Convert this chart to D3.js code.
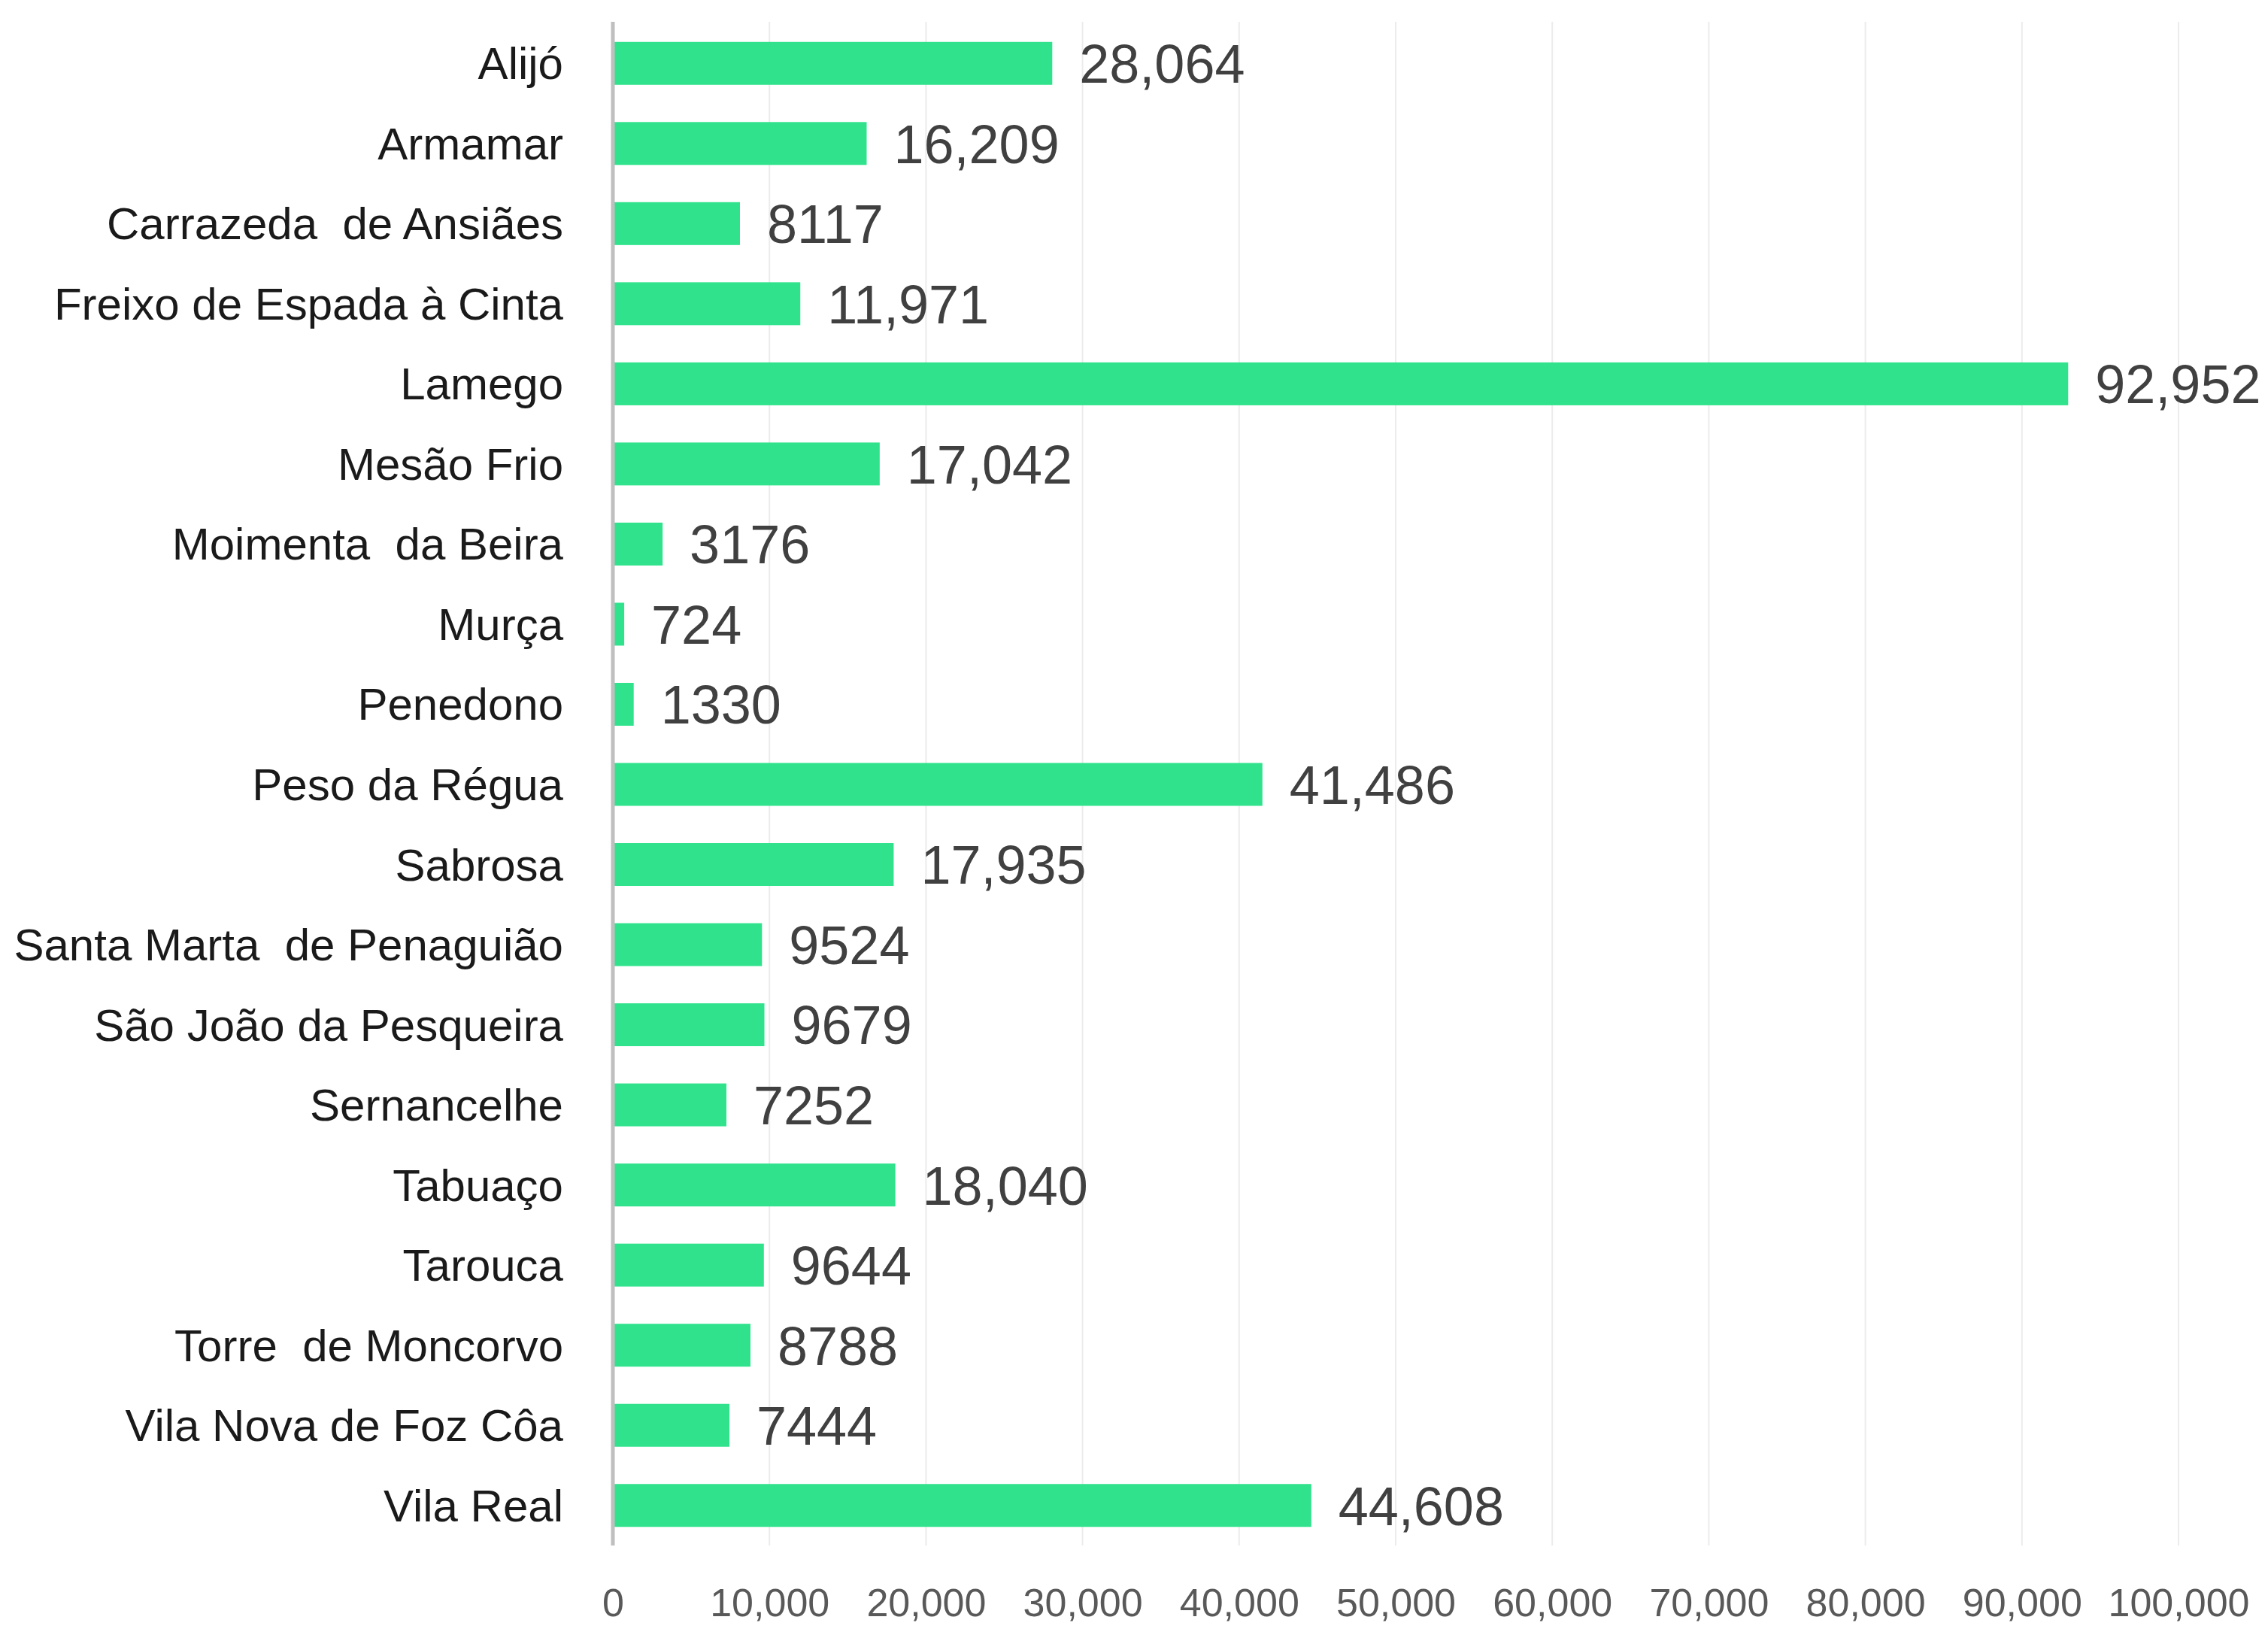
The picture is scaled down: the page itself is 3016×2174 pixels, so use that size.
<!DOCTYPE html>
<html>
<head>
<meta charset="utf-8">
<script src="https://cdn.jsdelivr.net/npm/d3@7"></script>
<style>
  html, body { margin: 0; padding: 0; background: #ffffff; }
  svg { display: block; }
  text { white-space: pre; }
</style>
</head>
<body>
<script>
const categories = [
  "Alijó", "Armamar", "Carrazeda  de Ansiães", "Freixo de Espada à Cinta", "Lamego",
  "Mesão Frio", "Moimenta  da Beira", "Murça", "Penedono", "Peso da Régua",
  "Sabrosa", "Santa Marta  de Penaguião", "São João da Pesqueira", "Sernancelhe",
  "Tabuaço", "Tarouca", "Torre  de Moncorvo", "Vila Nova de Foz Côa", "Vila Real"
];
const values = [
  28064, 16209, 8117, 11971, 92952,
  17042, 3176, 724, 1330, 41486,
  17935, 9524, 9679, 7252,
  18040, 9644, 8788, 7444, 44608
];
const tickValues = [0, 10000, 20000, 30000, 40000, 50000, 60000, 70000, 80000, 90000, 100000];

const W = 3016, H = 2174;
const svg = d3.select("body").append("svg").attr("width", W).attr("height", H);
svg.append("rect").attr("width", W).attr("height", H).attr("fill", "#ffffff");

const x = d3.scaleLinear().domain([0, 100000]).range([815, 2897]);
const y = d3.scaleBand().domain(categories).range([31, 2055]).paddingInner(0.465).paddingOuter(0.2325);

const plotTop = 29, plotBottom = 2055;

// gridlines
svg.append("g").selectAll("line").data(tickValues.slice(1)).join("line")
  .attr("x1", d => x(d)).attr("x2", d => x(d))
  .attr("y1", plotTop).attr("y2", plotBottom)
  .attr("stroke", "#ececec").attr("stroke-width", 2);

// bars
svg.append("g").selectAll("rect").data(values).join("rect")
  .attr("x", x(0))
  .attr("y", (d, i) => y(categories[i]))
  .attr("width", d => x(d) - x(0))
  .attr("height", y.bandwidth())
  .attr("fill", "#2fe28b");

// axis line at zero
svg.append("line")
  .attr("x1", x(0)).attr("x2", x(0))
  .attr("y1", plotTop).attr("y2", plotBottom)
  .attr("stroke", "#bfbfbf").attr("stroke-width", 5);

// category labels
svg.append("g").selectAll("text").data(categories).join("text")
  .attr("x", 749)
  .attr("y", d => y(d) + y.bandwidth() / 2)
  .attr("dy", "0.35em")
  .attr("text-anchor", "end")
  .attr("xml:space", "preserve")
  .attr("font-family", "'Liberation Sans', Arial, sans-serif")
  .attr("font-size", 60)
  .attr("fill", "#1a1a1a")
  .text(d => d);

// value labels
const fmt = d3.format(",");
svg.append("g").selectAll("text").data(values).join("text")
  .attr("x", d => x(d) + 36)
  .attr("y", (d, i) => y(categories[i]) + y.bandwidth() / 2)
  .attr("dy", "0.36em")
  .attr("font-family", "'Liberation Sans', Arial, sans-serif")
  .attr("font-size", 72)
  .attr("fill", "#404040")
  .text(d => d >= 10000 ? fmt(d) : String(d));

// x axis tick labels
const xAxis = d3.axisBottom(x).tickValues(tickValues).tickFormat(fmt).tickSize(0).tickPadding(0);
const gx = svg.append("g").attr("transform", "translate(0,2131)").call(xAxis);
gx.select(".domain").remove();
gx.selectAll("text")
  .attr("dy", "0.35em")
  .attr("font-family", "'Liberation Sans', Arial, sans-serif")
  .attr("font-size", 52)
  .attr("fill", "#595959");
</script>
</body>
</html>
